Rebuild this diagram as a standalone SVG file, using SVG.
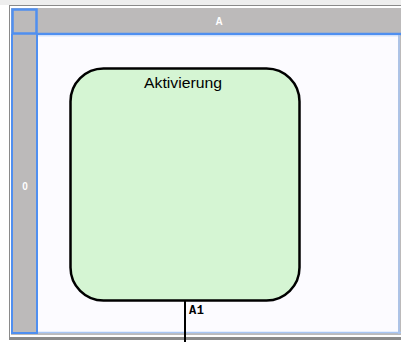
<svg xmlns="http://www.w3.org/2000/svg" width="401" height="342" viewBox="0 0 401 342">
<style>
.hdr{fill:#bcbaba}
.blue{fill:none;stroke:#4f8ff0;stroke-width:2.5}
.lt{fill:none;stroke:#a8c6f4;stroke-width:1.5}
.ht{font-family:"Liberation Sans",Arial,sans-serif;font-size:10px;font-weight:bold;fill:#ffffff;text-anchor:middle}
</style>
<rect x="0" y="0" width="401" height="342" fill="#ffffff"/>
<rect x="0" y="0" width="401" height="5" fill="#eeeeee"/>
<rect x="9.5" y="5.5" width="392" height="334" fill="none" stroke="#8a8a8a" stroke-width="1"/>
<g id="pool">
<rect x="11" y="8" width="390" height="327" fill="#bcbaba"/>
<rect x="38" y="35" width="360" height="298" fill="#fcfbff"/>
<rect x="12.5" y="9.5" width="24" height="24" class="blue"/>
<line x1="37" y1="34" x2="401" y2="34" class="blue"/>
<line x1="12" y1="34" x2="12" y2="333" stroke="#4f8ff0" stroke-width="2"/>
<line x1="37" y1="34" x2="37" y2="333" stroke="#4f8ff0" stroke-width="2"/>
<line x1="38" y1="332.5" x2="401" y2="332.5" class="lt"/>
<line x1="11" y1="333" x2="38" y2="333" stroke="#4f8ff0" stroke-width="2"/>
<line x1="399" y1="35" x2="399" y2="334" class="lt"/>
<line x1="38" y1="36" x2="398" y2="36" stroke="#d4e3fa" stroke-width="1"/>
<line x1="10" y1="338.5" x2="401" y2="338.5" stroke="#8a8a8a" stroke-width="3"/>
<text x="219" y="25" class="ht">A</text>
<text x="25" y="190" class="ht">0</text>
</g>
<g id="connectors">
<line x1="185" y1="301" x2="185" y2="342" stroke="#000" stroke-width="2"/>
<text x="189" y="313.5" font-family="'Liberation Mono','DejaVu Sans Mono',monospace" font-size="12" font-weight="bold" letter-spacing="0.5" fill="#000">A1</text>
</g>
<g id="aktivierung">
<rect x="70.5" y="68.5" width="229" height="232" rx="33" ry="33" fill="#d5f5d3" stroke="#000" stroke-width="2.5"/>
<text x="183" y="87.5" font-family="'Liberation Sans',Arial,sans-serif" font-size="15" fill="#000" text-anchor="middle" textLength="78" lengthAdjust="spacingAndGlyphs">Aktivierung</text>
</g>
</svg>
